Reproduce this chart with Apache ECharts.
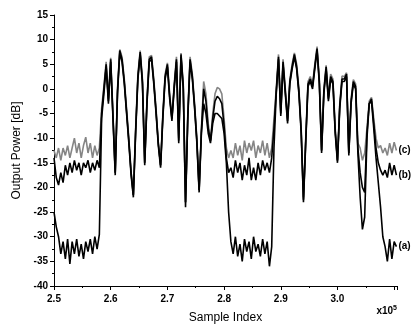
<!DOCTYPE html>
<html><head><meta charset="utf-8">
<script src="https://cdn.jsdelivr.net/npm/echarts@6/dist/echarts.min.js"></script>
<style>html,body{margin:0;padding:0;background:#fff}#c{width:414px;height:329px}</style>
</head><body><div id="c"></div>
<script>
// Sample index (x 1e5), evenly spaced samples
var xStart = 2.5, xStep = 0.004, nSamples = 152;
var yTicks = [-40,-35,-30,-25,-20,-15,-10,-5,0,5,10,15];
var xTicks = [2.5,2.6,2.7,2.8,2.9,3.0];
var seriesNames = ['(c)','(b)','(a)'];

var seriesC = [
 -12.5,-14,-12,-14.5,-12,-13.5,-11.5,-14,-12,-10,-13,-11,-14,-11.5,-9.8,-13,-11,-14,-11.5,-13.5,-12,
 -4,0.5,5.5,-2,6.3,-5,-17,0,8,6.5,
 2,-4,-10,-17,-21.5,-8,3,7.8,2,-15,
 -2,6.5,6.8,2,-4,-11,-15.5,-5,3,5.3,
 -1,-6,1,6.5,-10,7.3,1,-23,-5,6.5,
 3,-3,-10,-20.5,-8,1.5,-1,-7,-10.5,-5,
 -1,0.3,0,-1,-6,-12,-14,
 -12.5,-14,-11,-13.5,-11.5,-14.5,-10.5,-13,-11,-12.5,-10.5,-14,-11.5,-13,-10.5,-13.5,-11,-14,-12,
 -6,0,7,-4.5,6,0,-6,2,5,7.3,
 5,0,-8,-22,-10,1.5,2.5,1,5,8.6,
 2,-12.5,0,4.8,-1.5,3,2,-8,-14.5,-3,
 2.6,2.5,3.3,-13,-2,1.9,1,-11,-12,-14.5,
 -13,-8,-2.5,-1.7,-6,-10,-12,-11.5,-13,
 -12,-13.5,-11,-13,-10.8,-12.5
];
var seriesB = [
 -14,-18,-19.5,-17,-19,-15.5,-17.5,-15,-17,-14.5,-16.5,-15,-17.5,-15,-16,-14.5,-17,-15,-16.5,-14.5,-16,
 -5,0,5,-2.5,6,-5.5,-17,-0.5,7.8,6,
 1.5,-4.5,-10.5,-17,-21.5,-8.5,2.5,7.5,1.5,-15,
 -2.5,6,6.5,1.5,-4.5,-11,-15.5,-5.5,2.5,5,
 -1.5,-6,0.5,6,-10.5,7,0.5,-23,-5.5,6,
 2.5,-3.5,-10.5,-20.5,-8.5,0,-2.5,-8,-10.5,-6,
 -2.5,-1.5,-2,-3,-7.5,-14,-17,
 -16,-18,-14.5,-17,-15,-18.5,-15.5,-17.5,-14,-18.5,-16,-18.5,-15,-17.5,-14.5,-16.5,-15,-17,-14,
 -8,-0.5,6.5,-5,5.5,-0.5,-6.5,1.5,4.5,7,
 4.5,-0.5,-8.5,-22.5,-10.5,1,2,0.5,4.5,8.2,
 1.5,-12.5,-0.5,4.5,-2,2.5,1.5,-8.5,-14.5,-3.5,
 2,2,3,-13,-2.5,1.5,0.5,-12,-17,-20,
 -21,-9,-3,-2,-7,-12,-15,-16.5,-17.5,
 -16.5,-18,-15,-17.5,-15.5,-17.5
];
var seriesA = [
 -25,-28,-30,-33.5,-31,-34.5,-30.5,-35.5,-31,-33.5,-30.5,-34,-31.5,-34.5,-31,-33,-30.5,-33.5,-30,-32.5,-29.5,
 -6,-1,4.5,-3,5.5,-6,-17.5,-1,7.3,5.5,
 1,-5,-11,-17.5,-22,-9,2,7,1,-15.5,
 -3,5.5,6,1,-5,-11.5,-16,-6,2,4.5,
 -2,-6.5,0,5.5,-11,6.5,0,-24,-6,5.5,
 2,-4,-11,-21,-9,-3,-5,-9,-11,-7,
 -5,-5,-5.5,-6,-9,-15,-25,
 -31,-33.5,-30,-34,-31.5,-35,-30.5,-33,-31,-34.5,-30,-33,-31.5,-34,-30.5,-33.5,-31,-36,-32,
 -12,-1,6,-5.5,5,-1,-7,1,4,6.5,
 4,-1,-9,-23,-11,0.5,1.5,0,4,7.8,
 1,-13,-1,4,-2.5,2,1,-9,-15,-4,
 1.5,1.5,2.5,-13.5,-3,1,0,-13,-22,-28.5,
 -26,-10,-3,-2.5,-8,-14,-19,-24,-30,
 -32,-35,-30.5,-34.5,-31,-32
];

var xs = [];
for (var i = 0; i < nSamples; i++) xs.push(+(xStart + xStep * i).toFixed(4));
function pairs(vals){ return vals.map(function(v,i){ return [xs[i], v]; }); }

var font = 'Liberation Sans, Arial, sans-serif';
var chart = echarts.init(document.getElementById('c'), null, {renderer:'canvas'});
function mk(name, vals, color, w){
  return {
    name: name, type:'line', data: pairs(vals), symbol:'none', showSymbol:false,
    lineStyle:{color:color, width:w}, animation:false,
    endLabel:{show:true, formatter:name, color:'#000', fontFamily:font, fontSize:10, fontWeight:'bold', distance:2}
  };
}
chart.setOption({
  backgroundColor:'#fff',
  animation:false,
  grid:{left:54, right:17, top:15, bottom:41},
  xAxis:{
    type:'value', min:xTicks[0], max:3.105, interval:0.1,
    name:'Sample Index', nameLocation:'middle', nameGap:26,
    nameTextStyle:{fontFamily:font, fontSize:12, color:'#000'},
    axisLine:{onZero:false, lineStyle:{color:'#000', width:1}},
    axisTick:{show:true, length:4, lineStyle:{color:'#000'}},
    minorTick:{show:true, splitNumber:2, length:2, lineStyle:{color:'#000'}},
    splitLine:{show:false},
    axisLabel:{margin:8, fontFamily:font, fontSize:10, fontWeight:'bold', color:'#000',
      formatter:function(v){ return v > 3.05 ? '' : v.toFixed(1); }, showMaxLabel:false}
  },
  yAxis:{
    type:'value', min:yTicks[0], max:yTicks[yTicks.length-1], interval:5,
    name:'Output Power [dB]', nameLocation:'middle', nameGap:31, nameRotate:90,
    nameTextStyle:{fontFamily:font, fontSize:12, color:'#000'},
    axisLine:{show:true, onZero:false, lineStyle:{color:'#000', width:1}},
    axisTick:{show:true, length:4, lineStyle:{color:'#000'}},
    minorTick:{show:true, splitNumber:2, length:2, lineStyle:{color:'#000'}},
    splitLine:{show:false},
    axisLabel:{margin:6, fontFamily:font, fontSize:10, fontWeight:'bold', color:'#000'}
  },
  graphic:[{
    type:'text', right:17, top:305,
    style:{text:'x10{s|5}', rich:{s:{fontSize:7, fontWeight:'bold', verticalAlign:'top', padding:[0,0,6,0], fontFamily:font, fill:'#000'}},
      fontFamily:font, fontSize:10, fontWeight:'bold', fill:'#000'}
  }],
  series:[
    mk(seriesNames[0], seriesC, '#858585', 1.6),
    mk(seriesNames[1], seriesB, '#000', 1.6),
    mk(seriesNames[2], seriesA, '#000', 1.6)
  ]
});
</script></body></html>
